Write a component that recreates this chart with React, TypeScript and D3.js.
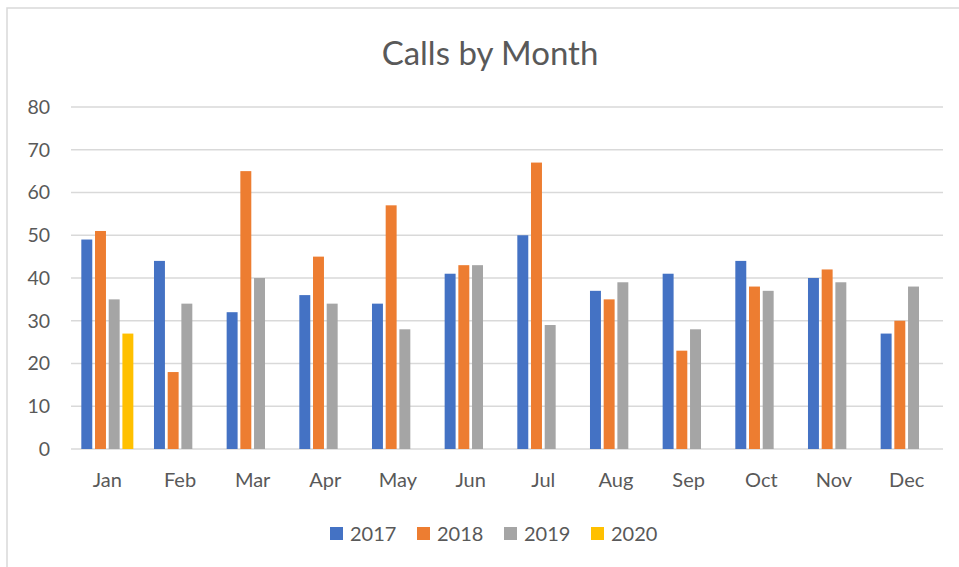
import React from 'react';
import * as d3 from 'd3';

const months = ['Jan', 'Feb', 'Mar', 'Apr', 'May', 'Jun', 'Jul', 'Aug', 'Sep', 'Oct', 'Nov', 'Dec'];
const years = ['2017', '2018', '2019', '2020'];
const calls2017 = [49, 44, 32, 36, 34, 41, 50, 37, 41, 44, 40, 27];
const calls2018 = [51, 18, 65, 45, 57, 43, 67, 35, 23, 38, 42, 30];
const calls2019 = [35, 34, 40, 34, 28, 43, 29, 39, 28, 37, 39, 38];
const calls2020 = [27, null, null, null, null, null, null, null, null, null, null, null];
const yTicks = [0, 10, 20, 30, 40, 50, 60, 70, 80];
const colors = ['#4472C4', '#ED7D31', '#A5A5A5', '#FFC000'];

const W = 959;
const H = 567;
const font = 'Lato, "Open Sans", sans-serif';

const App: React.FC = () => {
  const series = [calls2017, calls2018, calls2019, calls2020];

  const x = d3.scaleBand<string>()
    .domain(months)
    .range([71, 943])
    .paddingInner(0.284)
    .paddingOuter(0.142);

  const xs = d3.scaleBand<string>()
    .domain(years)
    .range([0, x.bandwidth()])
    .paddingInner(0.2);

  const y = d3.scaleLinear().domain([0, 80]).range([449, 107]);

  return (
    <svg width={W} height={H} style={{ position: 'absolute', left: 0, top: 0 }}>
      <rect x={0} y={0} width={W} height={H} fill="#fff" />
      <rect x={7} y={8} width={W + 20} height={H + 20} fill="none" stroke="#d9d9d9" strokeWidth={1.5} />

      <text x={490} y={65} textAnchor="middle" fontFamily={font} fontSize={33} fill="#595959">
        Calls by Month
      </text>

      {yTicks.map((t) => (
        <g key={t}>
          <line x1={71} x2={943} y1={y(t)} y2={y(t)} stroke="#d9d9d9" strokeWidth={1.3} />
          <text x={50} y={y(t)} dy="0.35em" textAnchor="end" fontFamily={font} fontSize={19.5} fill="#595959">
            {t}
          </text>
        </g>
      ))}

      {months.map((m, i) => (
        <g key={m} transform={`translate(${x(m)},0)`}>
          {series.map((s, j) => {
            const v = s[i];
            if (v == null) return null;
            return (
              <rect
                key={j}
                x={xs(years[j])}
                y={y(v)}
                width={xs.bandwidth()}
                height={y(0) - y(v)}
                fill={colors[j]}
              />
            );
          })}
          <text
            x={x.bandwidth() / 2}
            y={487}
            textAnchor="middle"
            fontFamily={font}
            fontSize={20}
            fill="#595959"
          >
            {m}
          </text>
        </g>
      ))}

      {years.map((yr, j) => (
        <g key={yr} transform={`translate(${330 + j * 87},527)`}>
          <rect x={0} y={0} width={13} height={13} fill={colors[j]} />
          <text x={20} y={6.5} dy="0.35em" fontFamily={font} fontSize={20} fill="#595959">
            {yr}
          </text>
        </g>
      ))}
    </svg>
  );
};

export default App;
